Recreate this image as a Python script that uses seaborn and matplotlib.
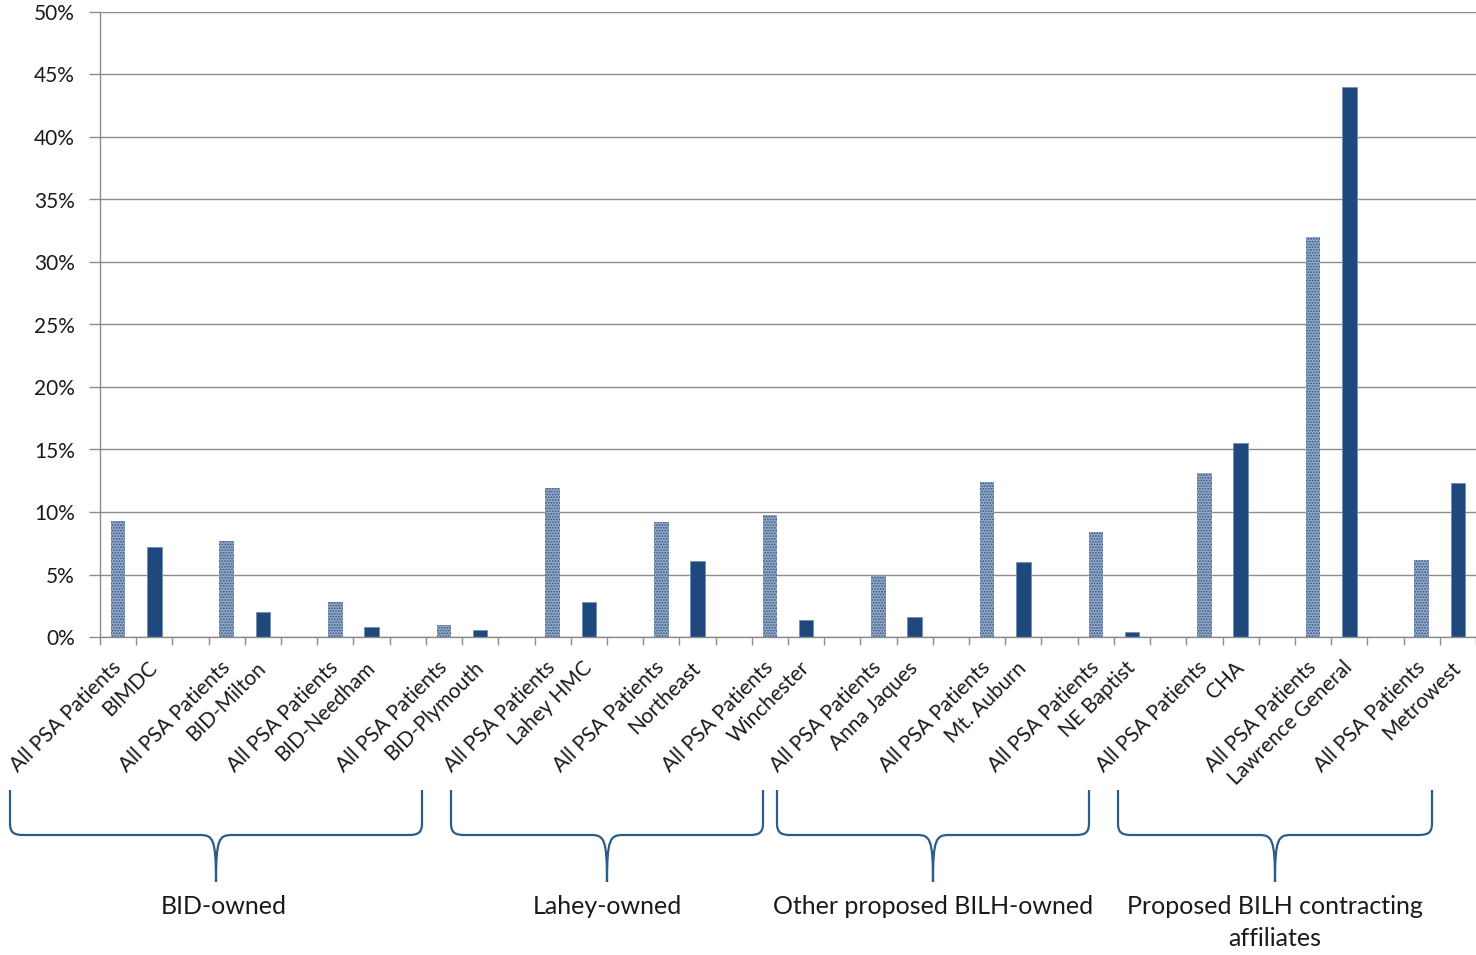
import numpy as np
import pandas as pd
import matplotlib
matplotlib.use("Agg")
import matplotlib.pyplot as plt
import seaborn as sns
from matplotlib.path import Path
from matplotlib.patches import PathPatch
from matplotlib.ticker import PercentFormatter, FixedLocator

# data (share of patients)
hospitals = ["BIMDC", "BID-Milton", "BID-Needham", "BID-Plymouth", "Lahey HMC",
             "Northeast", "Winchester", "Anna Jaques", "Mt. Auburn", "NE Baptist",
             "CHA", "Lawrence General", "Metrowest"]
all_psa = [0.093, 0.077, 0.028, 0.010, 0.119, 0.092, 0.098, 0.049, 0.124, 0.084,
           0.131, 0.320, 0.062]
hosp_share = [0.072, 0.020, 0.008, 0.006, 0.028, 0.061, 0.014, 0.016, 0.060, 0.004,
              0.155, 0.440, 0.123]
all_label = "All PSA Patients"

group_names = ["BID-owned", "Lahey-owned", "Other proposed BILH-owned",
               "Proposed BILH contracting\naffiliates"]
# brace spans in pixels (left, tip, right)
brace_spans = [(10, 216, 422), (451, 607, 763), (777, 933, 1089), (1118, 1275, 1432)]

# build the slot table: pair of bars then an empty slot
n_slots = 3 * len(hospitals) - 1
order = [f"s{k}" for k in range(n_slots)]
rows = []
for i, h in enumerate(hospitals):
    rows.append({"slot": f"s{3*i}", "share": all_psa[i], "kind": "all"})
    rows.append({"slot": f"s{3*i+1}", "share": hosp_share[i], "kind": "hosp"})
df = pd.DataFrame(rows)

tick_labels = []
for i, h in enumerate(hospitals):
    tick_labels += [all_label, h, ""]
tick_labels = tick_labels[:n_slots]

sns.set_style("white")
plt.rcParams['font.family'] = ['Lato', 'DejaVu Sans']
plt.rcParams['hatch.linewidth'] = 0.8

W, H = 1476, 955
fig = plt.figure(figsize=(W / 100, H / 100), dpi=100)
ax = fig.add_axes([100 / W, 1 - 637 / H, 1 - 100 / W, (637 - 12) / H])

dark = "#1f497d"
sns.barplot(data=df, x="slot", y="share", hue="kind", order=order,
            hue_order=["all", "hosp"], palette={"all": "#93a7c3", "hosp": dark},
            width=0.4, legend=False, ax=ax, saturation=1)

for bar in ax.containers[0]:
    bar.set_hatch("......")
    bar.set_edgecolor("#2f568a")
    bar.set_linewidth(0)
for bar in ax.containers[1]:
    bar.set_edgecolor("#6f8fb8")
    bar.set_linewidth(0.6)

ax.set_xlim(-0.5, n_slots - 0.5)
ax.set_ylim(0, 0.5)
ax.set_yticks(np.arange(0, 0.51, 0.05))
ax.yaxis.set_major_formatter(PercentFormatter(1, decimals=0))
ax.yaxis.grid(True, color="#8c8c8c", linewidth=1)
ax.set_axisbelow(True)

ax.set_xticks(range(n_slots))
ax.set_xticklabels(tick_labels, rotation=45, ha="right", va="center",
                   rotation_mode="anchor", fontsize=15, color="#1a1a1a")
ax.xaxis.set_minor_locator(FixedLocator(np.arange(-0.5, n_slots, 1)))
ax.tick_params(axis="x", which="major", length=0, pad=20)
ax.tick_params(axis="x", which="minor", length=6, color="#8c8c8c", width=1, bottom=True)
ax.tick_params(axis="y", length=8, color="#8c8c8c", width=1, left=True, pad=10,
               labelsize=15, labelcolor="#1a1a1a")
ax.set_xlabel("")
ax.set_ylabel("")

for side in ["top", "right"]:
    ax.spines[side].set_visible(False)
for side in ["left", "bottom"]:
    ax.spines[side].set_color("#8c8c8c")
    ax.spines[side].set_linewidth(1)

# overlay for the group braces, in pixel coordinates
ov = fig.add_axes([0, 0, 1, 1])
ov.set_xlim(0, W)
ov.set_ylim(H, 0)
ov.axis("off")
ov.patch.set_alpha(0)

y_top, y_mid, y_tip = 790, 835, 882
brace_color = "#2c5d8a"
for (x0, xt, x1), name in zip(brace_spans, group_names):
    verts = [
        (x0, y_top), (x0, y_mid - 12),
        (x0, y_mid - 2), (x0 + 4, y_mid), (x0 + 14, y_mid),
        (xt - 16, y_mid),
        (xt - 3, y_mid), (xt, y_mid + 4), (xt, y_tip),
        (xt, y_mid + 4), (xt + 3, y_mid), (xt + 16, y_mid),
        (x1 - 14, y_mid),
        (x1 - 4, y_mid), (x1, y_mid - 2), (x1, y_mid - 12),
        (x1, y_top),
    ]
    codes = [Path.MOVETO, Path.LINETO,
             Path.CURVE4, Path.CURVE4, Path.CURVE4,
             Path.LINETO,
             Path.CURVE4, Path.CURVE4, Path.CURVE4,
             Path.CURVE4, Path.CURVE4, Path.CURVE4,
             Path.LINETO,
             Path.CURVE4, Path.CURVE4, Path.CURVE4,
             Path.LINETO]
    ov.add_patch(PathPatch(Path(verts, codes), facecolor="none",
                           edgecolor=brace_color, linewidth=1.6))
    ov.text(xt + (8 if name == "BID-owned" else 0), 895, name, ha="center", va="top",
            fontsize=18, color="#1a1a1a", linespacing=1.45)

fig.savefig("out.png", dpi=100)
